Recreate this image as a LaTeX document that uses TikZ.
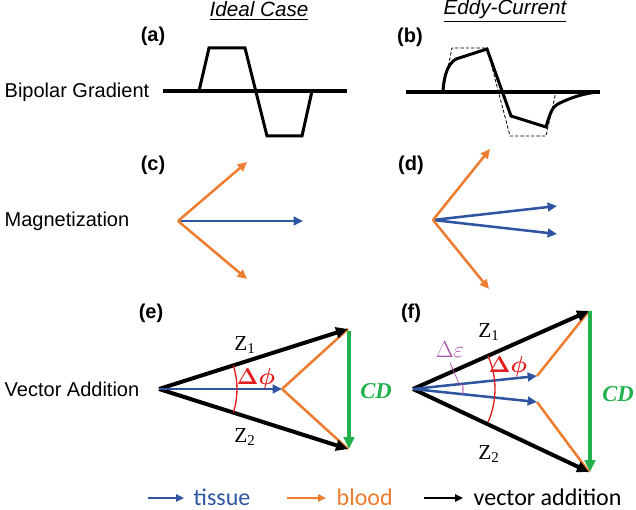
\documentclass[tikz,border=0pt]{standalone}
\usepackage{fontspec}
\usepackage{amsmath}
\setmainfont{Liberation Sans}
\newfontfamily\legendfont{Carlito}
\newfontfamily\serifz{Liberation Serif}
\usetikzlibrary{
  arrows.meta,
  calc,
  positioning
}
\definecolor{tissueblue}{RGB}{47,85,160}
\definecolor{bloodorange}{RGB}{237,125,49}
\definecolor{cdgreen}{RGB}{34,177,76}
\definecolor{phired}{RGB}{226,30,30}
\definecolor{epspurple}{RGB}{170,80,170}

\begin{document}
\begin{tikzpicture}[
    x=0.75pt, y=-0.75pt,
    side/.style={anchor=west, font=\fontsize{15}{18}\selectfont},
    title/.style={font=\fontsize{15.5}{18}\selectfont\itshape},
    panel/.style={font=\fontsize{15}{18}\selectfont\bfseries},
    axis/.style={line width=3pt},
    grad/.style={line width=2.25pt, line join=miter},
    ideal/.style={dashed, dash pattern=on 2.5pt off 1.5pt, line width=0.6pt},
    tissue/.style={tissueblue, line width=1.9pt, -{Triangle[length=7pt,width=6.5pt]}},
    blood/.style={bloodorange, line width=1.9pt, -{Triangle[length=7pt,width=6.5pt]}},
    bloodline/.style={bloodorange, line width=1.9pt},
    vsum/.style={black, line width=3pt, -{Triangle[length=9pt,width=8pt]}},
    cdarrow/.style={cdgreen, line width=3pt, -{Triangle[length=9pt,width=8pt]}},
    phiarc/.style={phired, line width=1pt},
    epsarc/.style={epspurple, line width=0.8pt},
    zlabel/.style={font=\serifz\fontsize{16}{19}\selectfont},
    philabel/.style={phired, font=\fontsize{16}{19}\selectfont},
    cdlabel/.style={cdgreen, font=\serifz\fontsize{17}{20}\selectfont\bfseries\itshape},
    epslabel/.style={epspurple, font=\fontsize{16.5}{19}\selectfont},
    legtext/.style={anchor=base west, font=\legendfont\fontsize{18}{21}\selectfont},
    legarrow/.style={line width=1.5pt, -{Triangle[length=6pt,width=5.5pt]}}
  ]

\useasboundingbox (0,0) rectangle (636,510);

% column headings and row names
\node[title] (ideal) at (259,11) {\underline{Ideal Case}};
\node[title] (eddy) at (505,11) {\underline{Eddy-Current}};

\node[side] (grad) at (0,92) {Bipolar Gradient};
\node[side] (magn) at (0,221) {Magnetization};
\node[side] (vadd) at (0,389) {Vector Addition};

\node[panel] (pa) at (153,36) {(a)};
\node[panel] (pb) at (410,37) {(b)};
\node[panel] (pc) at (153,165) {(c)};
\node[panel] (pd) at (411,165) {(d)};
\node[panel] (pe) at (151,313) {(e)};
\node[panel] (pf) at (411,313) {(f)};

% (a) ideal gradient
\draw[axis] (163,91) -- (347,91);
\draw[grad] (199,91) -- (209,48) -- (245,48) -- (267,136) -- (302,136) -- (312,91);

% (b) eddy-current gradient
\draw[axis] (406,92) -- (600,92);
\draw[ideal] (443,92) -- (452,48) -- (487,48) -- (510,136) -- (546,136) -- (556,92);
\draw[grad] (443,92) .. controls (444,74) and (448,64) .. (456,59) -- (487,49)
  -- (511,116) -- (546,127) .. controls (551,110) and (553,106) .. (560,103)
  .. controls (572,97) and (586,93) .. (598,92);

% (c)
\coordinate (c0) at (178,221);
\coordinate (c1) at (303,221);
\coordinate (c2) at (247,162);
\coordinate (c3) at (247,279);
\draw[tissue] (c0) -- (c1);
\draw[blood] (c0) -- (c2);
\draw[blood] (c0) -- (c3);

% (d)
\coordinate (d0) at (433,220);
\coordinate (d1) at (557,206);
\coordinate (d2) at (557,234);
\coordinate (d3) at (490,149);
\coordinate (d4) at (489,289);
\draw[tissue] (d0) -- (d1);
\draw[tissue] (d0) -- (d2);
\draw[blood] (d0) -- (d3);
\draw[blood] (d0) -- (d4);

% (e)
\coordinate (e0) at (159,389);
\coordinate (e1) at (282,389);
\coordinate (ez1) at (348,329);
\coordinate (ez2) at (348,449);
\coordinate (ecd1) at (349,331);
\coordinate (ecd2) at (349,449);
\draw[bloodline] (e1) -- (ez1);
\draw[bloodline] (e1) -- (ez2);
\draw[vsum] (e0) -- (ez1);
\draw[vsum] (e0) -- (ez2);
\draw[tissue] (e0) -- (e1);
\draw[cdarrow] (ecd1) -- (ecd2);
\draw[phiarc] ($(e0)+(-17.6:78)$) arc[start angle=-17.6, end angle=17.6, radius=78];
\node[philabel] (ephi) at (256,379) {$\boldsymbol{\Delta\phi}$};
\node[zlabel] (ez1l) at (245,345) {Z\textsubscript{1}};
\node[zlabel] (ez2l) at (245,437) {Z\textsubscript{2}};
\node[cdlabel] (ecd) at (376,391) {CD};

% (f)
\coordinate (f0) at (413,389);
\coordinate (f1) at (537,376);
\coordinate (f2) at (537,402);
\coordinate (fz1) at (589,311);
\coordinate (fz2) at (589,472);
\coordinate (fcd1) at (590,311);
\coordinate (fcd2) at (590,472);
\draw[bloodline] (f1) -- (fz1);
\draw[bloodline] (f2) -- (fz2);
\draw[vsum] (f0) -- (fz1);
\draw[vsum] (f0) -- (fz2);
\draw[tissue] (f0) -- (f1);
\draw[tissue] (f0) -- (f2);
\draw[cdarrow] (fcd1) -- (fcd2);
\draw[phiarc] ($(f0)+(-23.9:82)$) arc[start angle=-23.9, end angle=23.9, radius=82];
\draw[epsarc] ($(f0)+(-6:50)$) arc[start angle=-6, end angle=6, radius=50];
\node[philabel] (fphi) at (508,367) {$\boldsymbol{\Delta\phi}$};
\node[epslabel] (feps) at (450,350) {$\Delta\varepsilon$};
\coordinate (fepsend) at ($(f0)+(-4:47)$);
\draw[epspurple, line width=0.5pt] (feps.south) -- (fepsend);
\node[zlabel] (fz1l) at (489,332) {Z\textsubscript{1}};
\node[zlabel] (fz2l) at (489,454) {Z\textsubscript{2}};
\node[cdlabel] (fcd) at (618,394) {CD};

% legend
\coordinate (lt0) at (148,498);
\coordinate (lt1) at (184,498);
\coordinate (lb0) at (287,498);
\coordinate (lb1) at (326,498);
\coordinate (lv0) at (424,498);
\coordinate (lv1) at (463,498);
\draw[legarrow, tissueblue] (lt0) -- (lt1);
\draw[legarrow, bloodorange] (lb0) -- (lb1);
\draw[legarrow, black] (lv0) -- (lv1);
\node[legtext, tissueblue] (ltissue) at (189,505) {tissue};
\node[legtext, bloodorange] (lblood) at (332,505) {blood};
\node[legtext] (lvector) at (469,505) {vector addition};
\end{tikzpicture}
\end{document}
